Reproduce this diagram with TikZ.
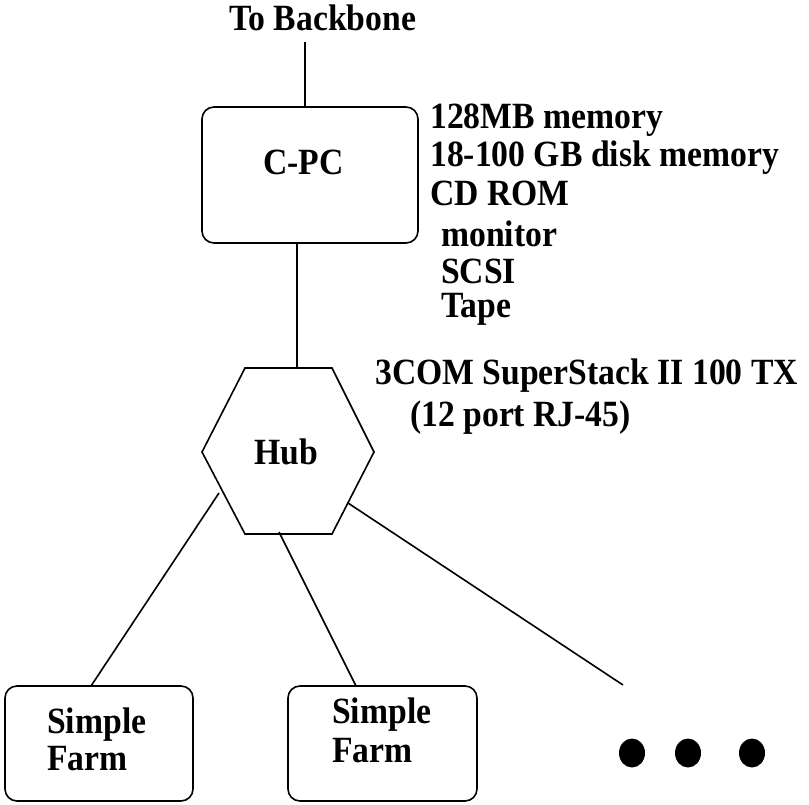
\documentclass[tikz,border=0pt]{standalone}
\usepackage{fontspec}
\setmainfont{Liberation Serif}[FakeStretch=0.91]
\begin{document}
\begin{tikzpicture}[x=1pt,y=-1pt,
  txt/.style={anchor=base west,inner sep=0pt,font=\fontsize{37}{40}\selectfont\bfseries},
  ln/.style={line width=1.6pt},
  boxr/.style={line width=1.6pt,rounded corners=12pt}]
\useasboundingbox[fill=white] (0,0) rectangle (809,804);
% texts
\node[txt] (tb) at (229,30) {To Backbone};
\node[txt] (m1) at (430,128) {128MB memory};
\node[txt] (m2) at (430,166) {18-100 GB disk memory};
\node[txt] (m3) at (430,205) {CD ROM};
\node[txt] (m4) at (441,246) {monitor};
\node[txt] (m5) at (441,283) {SCSI};
\node[txt] (m6) at (441,317) {Tape};
\node[txt] (h1) at (375,384) {3COM SuperStack II 100 TX};
\node[txt] (h2) at (410,426) {(12 port RJ-45)};
% C-PC box
\draw[boxr] (202,107) rectangle (418,243);
\node[txt] (cpc) at (263,174) {C-PC};
\coordinate (cpcT) at (305,107);
\coordinate (cpcB) at (297,243);
\coordinate (bb) at (305,42);
\draw[ln] (bb) -- (cpcT);
% hexagon
\coordinate (hA) at (245,368);
\coordinate (hB) at (332,368);
\coordinate (hC) at (374,452);
\coordinate (hD) at (332,534);
\coordinate (hE) at (245,534);
\coordinate (hF) at (202,452);
\draw[ln,line join=miter] (hA) -- (hB) -- (hC) -- (hD) -- (hE) -- (hF) -- cycle;
\node[txt] (hub) at (254,464) {Hub};
\coordinate (hubT) at (297,368);
\draw[ln] (cpcB) -- (hubT);
% farms
\draw[boxr] (5,686) rectangle (193,801);
\node[txt] (f1a) at (47,733) {Simple};
\node[txt] (f1b) at (47,770) {Farm};
\draw[boxr] (288,686) rectangle (477,801);
\node[txt] (f2a) at (332,723) {Simple};
\node[txt] (f2b) at (332,762) {Farm};
% connectors
\coordinate (s1) at (219,493);
\coordinate (e1) at (91,686);
\coordinate (s2) at (279,532);
\coordinate (e2) at (356,686);
\coordinate (s3) at (348,503);
\coordinate (e3) at (623,685);
\draw[ln] (s1) -- (e1);
\draw[ln] (s2) -- (e2);
\draw[ln] (s3) -- (e3);
% dots
\fill (632,753) ellipse [x radius=13, y radius=14.5];
\fill (688,753) ellipse [x radius=13, y radius=14.5];
\fill (752,753) ellipse [x radius=13, y radius=14.5];
\end{tikzpicture}
\end{document}
